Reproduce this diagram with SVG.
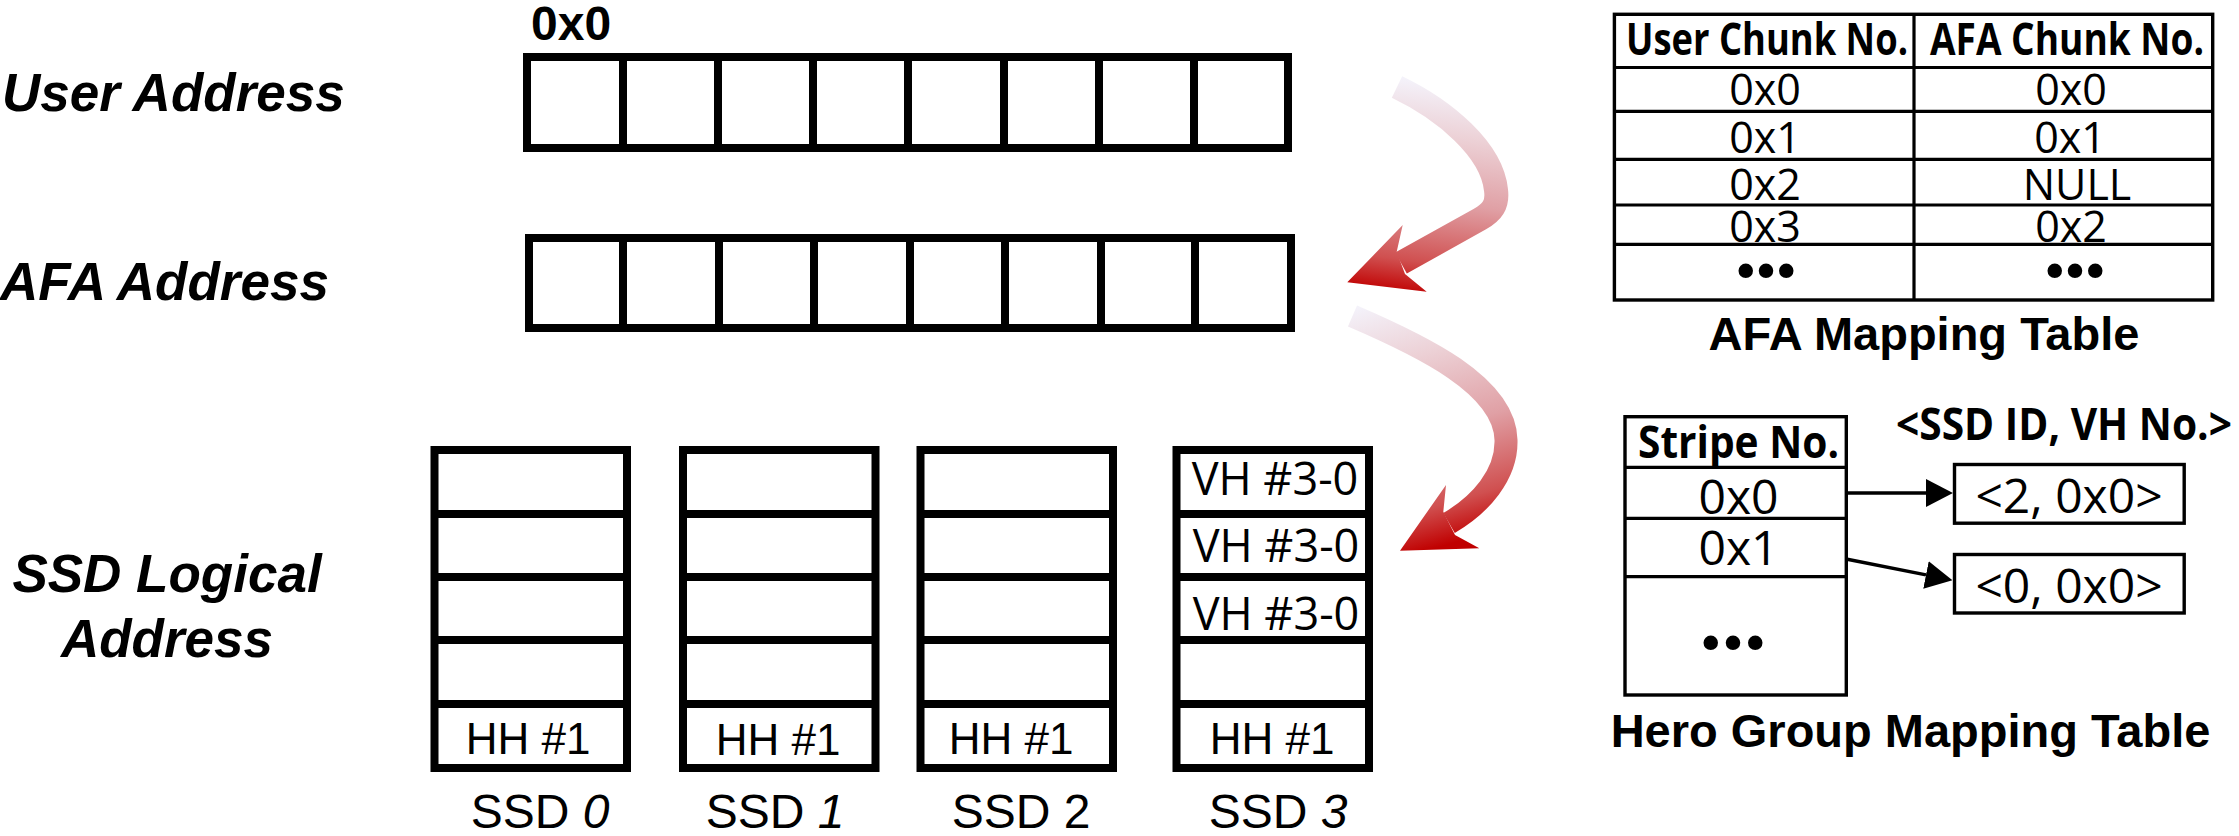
<svg xmlns="http://www.w3.org/2000/svg" width="2239" height="836" viewBox="0 0 2239 836">
  <style>
    .box { fill: #fff; stroke: #000; stroke-width: 8; }
    .div { stroke: #000; stroke-width: 8; }
    .tb { fill: none; stroke: #000; stroke-width: 3.4; }
    .tl { stroke: #000; stroke-width: 3.2; }
    .side { font-family: "Liberation Sans", Arial, sans-serif; font-weight: bold; font-style: italic; font-size: 53px; fill: #000; }
    .addr0 { font-family: "Liberation Sans", Arial, sans-serif; font-weight: bold; font-size: 48px; fill: #000; }
    .hh { font-family: "Liberation Sans", Arial, sans-serif; font-size: 44px; text-anchor: middle; fill: #000; }
    .vh { font-family: "Open Sans", "Noto Sans", sans-serif; font-size: 45px; text-anchor: middle; fill: #000; }
    .ssd { font-family: "Liberation Sans", Arial, sans-serif; font-size: 48px; text-anchor: middle; fill: #000; }
    .it { font-style: italic; }
    .th { font-family: "Open Sans", "Noto Sans", sans-serif; font-weight: bold; font-size: 44px; text-anchor: middle; fill: #000; }
    .td { font-family: "Open Sans", "Noto Sans", sans-serif; font-size: 43px; text-anchor: middle; fill: #000; }
    .td2 { font-family: "Open Sans", "Noto Sans", sans-serif; font-size: 48px; text-anchor: middle; fill: #000; }
    .dots { font-family: "DejaVu Sans", sans-serif; font-size: 50px; text-anchor: middle; fill: #000; }
    .cap { font-family: "Liberation Sans", Arial, sans-serif; font-weight: bold; font-size: 47px; text-anchor: middle; fill: #000; }
    .ptr { stroke: #000; stroke-width: 3.5; fill: none; }
  </style>
  <defs>
    <marker id="tri" markerUnits="userSpaceOnUse" markerWidth="27" markerHeight="28" viewBox="0 0 26 27" refX="0" refY="13.5" orient="auto">
      <path d="M0,0 L26,13.5 L0,27 Z" fill="#000"/>
    </marker>
    <linearGradient id="redA" gradientUnits="userSpaceOnUse" x1="1400" y1="78" x2="1372" y2="290">
      <stop offset="0" stop-color="#f4f2fa"/>
      <stop offset="0.25" stop-color="#ecd0d5"/>
      <stop offset="0.55" stop-color="#e0a0a5"/>
      <stop offset="0.84" stop-color="#d05050"/>
      <stop offset="1" stop-color="#c00000"/>
    </linearGradient>
    <linearGradient id="redB" gradientUnits="userSpaceOnUse" x1="1356" y1="308" x2="1425" y2="551">
      <stop offset="0" stop-color="#f4f2fa"/>
      <stop offset="0.25" stop-color="#ecd0d5"/>
      <stop offset="0.55" stop-color="#e0a0a5"/>
      <stop offset="0.84" stop-color="#d05050"/>
      <stop offset="1" stop-color="#c00000"/>
    </linearGradient>
  </defs>

  <rect width="2239" height="836" fill="#fff"/>

  <!-- row labels -->
  <g id="labels">
    <text class="side" x="2" y="111">User Address</text>
    <text class="side" x="0" y="300">AFA Address</text>
    <text class="side" x="167" y="592" text-anchor="middle">SSD Logical</text>
    <text class="side" x="167" y="657" text-anchor="middle">Address</text>
  </g>

  <!-- user address space: 8 chunks -->
  <g id="user-address">
    <text class="addr0" x="531" y="40">0x0</text>
    <rect class="box" x="527" y="57" width="761" height="91"/>
    <path class="div" d="M623,57V148 M718,57V148 M813,57V148 M908,57V148 M1004,57V148 M1099,57V148 M1194,57V148"/>
  </g>

  <!-- AFA address space: 8 chunks -->
  <g id="afa-address">
    <rect class="box" x="529" y="238" width="762" height="90"/>
    <path class="div" d="M623,238V328 M719,238V328 M814,238V328 M910,238V328 M1005,238V328 M1101,238V328 M1195,238V328"/>
  </g>

  <!-- SSD logical address columns -->
  <g id="ssd0">
    <rect class="box" x="434.5" y="450" width="192.5" height="318"/>
    <path class="div" d="M434.5,514H627 M434.5,640H627 M434.5,704H627"/>
    <path class="div" d="M434.5,577H627" stroke-width="10"/>
    <text class="hh" x="528" y="754">HH #1</text>
    <text class="ssd" x="540" y="828">SSD <tspan class="it">0</tspan></text>
  </g>
  <g id="ssd1">
    <rect class="box" x="683" y="450" width="192.5" height="318"/>
    <path class="div" d="M683,514H875.5 M683,640H875.5 M683,704H875.5"/>
    <path class="div" d="M683,577H875.5" stroke-width="10"/>
    <text class="hh" x="778" y="755">HH #1</text>
    <text class="ssd" x="775" y="828">SSD <tspan class="it">1</tspan></text>
  </g>
  <g id="ssd2">
    <rect class="box" x="920.5" y="450" width="192.5" height="318"/>
    <path class="div" d="M920.5,514H1113 M920.5,640H1113 M920.5,704H1113"/>
    <path class="div" d="M920.5,577H1113" stroke-width="10"/>
    <text class="hh" x="1011" y="754">HH #1</text>
    <text class="ssd" x="1021" y="828">SSD 2</text>
  </g>
  <g id="ssd3">
    <rect class="box" x="1176.5" y="450" width="192.5" height="318"/>
    <path class="div" d="M1176.5,514H1369 M1176.5,640H1369 M1176.5,704H1369"/>
    <path class="div" d="M1176.5,577H1369" stroke-width="10"/>
    <text class="vh" x="1275" y="495">VH #3-0</text>
    <text class="vh" x="1276" y="562">VH #3-0</text>
    <text class="vh" x="1276" y="630">VH #3-0</text>
    <text class="hh" x="1272" y="754">HH #1</text>
    <text class="ssd" x="1278" y="828">SSD <tspan class="it">3</tspan></text>
  </g>

  <!-- AFA mapping table -->
  <g id="afa-table">
    <rect class="tb" x="1614.4" y="14.3" width="598.3" height="285.7"/>
    <path class="tl" d="M1914,14V300 M1614,67.5H2213 M1614,111.3H2213 M1614,159.3H2213 M1614,205H2213 M1614,244.3H2213"/>
    <text class="th" x="1767" y="55" textLength="282" lengthAdjust="spacingAndGlyphs">User Chunk No.</text>
    <text class="th" x="2067" y="55" textLength="274" lengthAdjust="spacingAndGlyphs">AFA Chunk No.</text>
    <text class="td" x="1765" y="105">0x0</text>
    <text class="td" x="2071" y="105">0x0</text>
    <text class="td" x="1765" y="153">0x1</text>
    <text class="td" x="2070" y="153">0x1</text>
    <text class="td" x="1765" y="200">0x2</text>
    <text class="td" x="2077" y="200">NULL</text>
    <text class="td" x="1765" y="242">0x3</text>
    <text class="td" x="2071" y="242">0x2</text>
    <text class="dots" x="1766" y="289" textLength="70" lengthAdjust="spacing">•••</text>
    <text class="dots" x="2075" y="289" textLength="70" lengthAdjust="spacing">•••</text>
    <text class="cap" x="1924" y="350">AFA Mapping Table</text>
  </g>

  <!-- hero group mapping table -->
  <g id="hero-table">
    <rect class="tb" x="1625" y="416.7" width="221.3" height="278.3"/>
    <path class="tl" d="M1625,467.3H1846 M1625,518.3H1846 M1625,576.7H1846"/>
    <text class="th" x="1738.5" y="458" textLength="201" lengthAdjust="spacingAndGlyphs">Stripe No.</text>
    <text class="td2" x="1738.5" y="514">0x0</text>
    <text class="td2" x="1738.5" y="565">0x1</text>
    <text class="dots" x="1733" y="661" textLength="74" lengthAdjust="spacing">•••</text>
    <text class="th" x="2064" y="440" font-size="40" textLength="336" lengthAdjust="spacingAndGlyphs">&lt;SSD ID, VH No.&gt;</text>
    <rect class="tb" x="1954.5" y="464.5" width="229.7" height="58.7"/>
    <rect class="tb" x="1954.5" y="554.5" width="229.7" height="58.5"/>
    <text class="td2" x="2069" y="513">&lt;2, 0x0&gt;</text>
    <text class="td2" x="2069" y="603">&lt;0, 0x0&gt;</text>
    <text class="cap" x="1910.5" y="747">Hero Group Mapping Table</text>
  </g>

  <!-- connectors -->
  <g id="connectors">
    <line class="ptr" x1="1846" y1="493" x2="1926" y2="493" marker-end="url(#tri)"/>
    <line class="ptr" x1="1846" y1="559" x2="1926" y2="574.9" marker-end="url(#tri)"/>

    <!-- user address to AFA address -->
    <path d="M1397,87 C1445,110 1492,150 1496,190 C1498,205 1492,212 1480,219 L1401,263" fill="none" stroke="url(#redA)" stroke-width="24"/>
    <path d="M1347.3,282.3 L1402.7,225 L1396.7,251.7 L1405,274 L1426.7,291.7 Z" fill="url(#redA)"/>

    <!-- AFA address to SSD logical address -->
    <path d="M1352.5,316 C1420,345 1505,385 1506,440 C1507,475 1480,505 1449,523" fill="none" stroke="url(#redB)" stroke-width="23"/>
    <path d="M1400,550.7 L1446,485 L1443.3,511.7 L1455,535 L1479.3,548.3 Z" fill="url(#redB)"/>
  </g>
</svg>
